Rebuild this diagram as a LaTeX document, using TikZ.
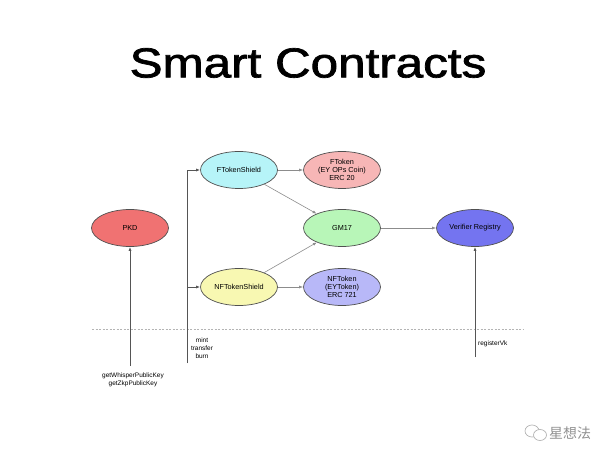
\documentclass[tikz,border=0pt]{standalone}
\usepackage{fontspec}
\setmainfont{Liberation Sans}
\newfontfamily\titlefont[FakeBold=1.6]{Liberation Sans}
\newfontfamily\cjk{Noto Sans CJK SC}
\usepackage{xcolor}
\usepackage{tikz}
\definecolor{ctrRed}{HTML}{F07272}
\definecolor{ctrCyan}{HTML}{B6F4F8}
\definecolor{ctrPink}{HTML}{F7B6B6}
\definecolor{ctrGreen}{HTML}{B8F6B8}
\definecolor{ctrYellow}{HTML}{F8F8B2}
\definecolor{ctrLilac}{HTML}{B8B8F8}
\definecolor{ctrBlue}{HTML}{7474F0}
\definecolor{ctrBorder}{HTML}{505050}
\definecolor{ctrLine}{HTML}{8C8C8C}
\definecolor{ctrDark}{HTML}{555555}
\definecolor{ctrMark}{HTML}{B4B4B4}
\usetikzlibrary{arrows.meta,shapes.geometric}

\begin{document}
\begin{tikzpicture}[
  x=1bp, y=-1bp,
  contract/.style={ellipse, draw=ctrBorder, line width=0.7bp, minimum width=77bp, minimum height=37bp, inner sep=0pt, align=center, font=\fontsize{7.3}{8.2}\selectfont},
  link/.style={draw=ctrLine, line width=0.6bp, -{Latex[length=4bp,width=3bp]}},
  call/.style={draw=ctrDark, line width=0.9bp, -{Latex[length=4bp,width=3bp]}},
  sep/.style={draw=ctrMark, line width=0.5bp, dash pattern=on 2bp off 1.5bp},
  note/.style={align=center, inner sep=0pt, font=\fontsize{6.5}{7.8}\selectfont}
]
\useasboundingbox (0,0) rectangle (614,460);

% Title
\node (title) at (308,63) {\titlefont\fontsize{42}{42}\selectfont\scalebox{1.18}[1]{Smart Contracts}};

% Contracts
\node[contract, fill=ctrRed] (pkd) at (130,228) {PKD};
\node[contract, fill=ctrCyan] (fShield) at (239,170) {FTokenShield};
\node[contract, fill=ctrYellow] (nfShield) at (239,287) {NFTokenShield};
\node[contract, fill=ctrPink] (fToken) at (342,170) {FToken\\(EY OPs Coin)\\ERC 20};
\node[contract, fill=ctrGreen] (gm) at (342,228) {GM17};
\node[contract, fill=ctrLilac] (nfToken) at (342,287) {NFToken\\(EYToken)\\ERC 721};
\node[contract, fill=ctrBlue] (verifier) at (475,228) {Verifier Registry};

% Links between contracts
\draw[link] (fShield) -- (fToken);
\draw[link] (fShield) -- (gm);
\draw[link] (nfShield) -- (gm);
\draw[link] (nfShield) -- (nfToken);
\draw[link] (gm) -- (verifier);

% On-chain / off-chain boundary
\coordinate (sepL) at (92,329);
\coordinate (sepR) at (523,329);
\draw[sep] (sepL) -- (sepR);

% Calls from outside
\coordinate (pkdUser) at (130,366);
\coordinate (opsUser) at (187,363);
\coordinate (vkUser) at (475,357);
\draw[call] (pkdUser) -- (pkd);
\draw[call] (opsUser) |- (fShield);
\draw[call] (opsUser) |- (nfShield);
\draw[call] (vkUser) -- (verifier);

\node[note] (pkdCalls) at (133,380) {getWhisperPublicKey\\getZkpPublicKey};
\node[note] (opsCalls) at (202,348) {mint\\transfer\\burn};
\node[note, anchor=west] (vkCalls) at (478,344) {registerVk};

% Watermark
\draw[ctrMark, line width=0.7bp] (532,431) ellipse (7bp and 6bp);
\draw[ctrMark, line width=0.7bp, fill=white] (540,435) ellipse (6.5bp and 5.5bp);
\node[text=ctrMark!80!black, inner sep=0pt, anchor=west] (mark) at (549,433) {\cjk\fontsize{14}{14}\selectfont 星想法};

\end{tikzpicture}
\end{document}
